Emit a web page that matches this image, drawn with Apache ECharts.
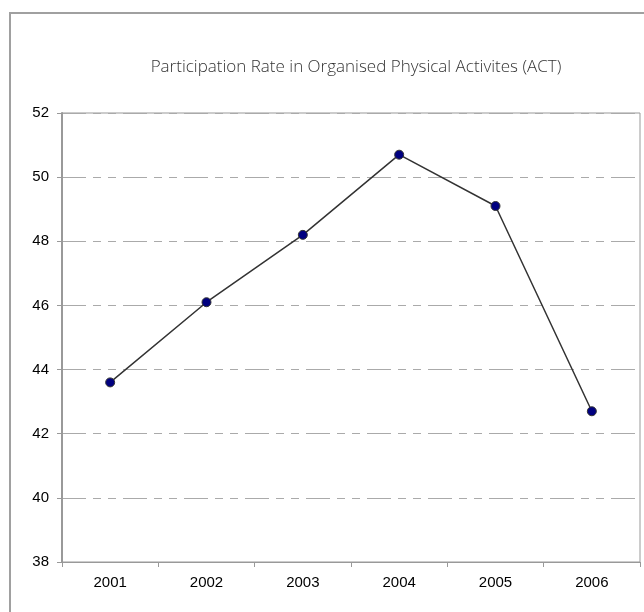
<!DOCTYPE html>
<html>
<head>
<meta charset="utf-8">
<script src="https://cdn.jsdelivr.net/npm/echarts@6/dist/echarts.min.js"></script>
<style>
  html, body { margin: 0; padding: 0; background: #fff; }
  #chart { width: 644px; height: 612px; }
</style>
</head>
<body>
<div id="chart"></div>
<script>
// data
var years = ['2001', '2002', '2003', '2004', '2005', '2006'];
var rates = [43.6, 46.1, 48.2, 50.7, 49.1, 42.7];
var yTicks = { min: 38, max: 52, step: 2 };

var chart = echarts.init(document.getElementById('chart'));
var option = {
    animation: false,
    title: {
        text: 'Participation Rate in Organised Physical Activites (ACT)',
        left: 351,
        top: 54,
        textAlign: 'center',
        textStyle: {
            fontFamily: 'Open Sans',
            fontWeight: 300,
            fontSize: 17,
            color: '#333'
        }
    },
    graphic: [{
        type: 'rect',
        shape: { x: 10, y: 13, width: 660, height: 640 },
        style: { fill: 'none', stroke: '#a0a0a0', lineWidth: 2 },
        z: -1
    }],
    grid: {
        left: 62, top: 113, right: 4, bottom: 50,
        show: true,
        borderColor: '#999',
        borderWidth: 1
    },
    xAxis: {
        type: 'category',
        data: years,
        boundaryGap: true,
        axisLine: { lineStyle: { color: '#999', width: 1 } },
        axisTick: { show: true, length: 5, inside: false, lineStyle: { color: '#999' } },
        axisLabel: {
            margin: 13,
            fontFamily: 'Liberation Sans',
            fontSize: 15,
            color: '#000'
        },
        splitLine: { show: false }
    },
    yAxis: {
        type: 'value',
        min: yTicks.min,
        max: yTicks.max,
        interval: yTicks.step,
        axisLine: { show: true, lineStyle: { color: '#999', width: 2 } },
        axisTick: { show: true, length: 5, lineStyle: { color: '#999' } },
        axisLabel: {
            margin: 13,
            fontFamily: 'Liberation Sans',
            fontSize: 15,
            color: '#000'
        },
        splitLine: {
            show: true,
            lineStyle: {
                color: '#aaa',
                width: 1,
                type: [24, 7, 8, 7, 8, 7]
            }
        }
    },
    series: [{
        type: 'line',
        data: rates,
        symbol: 'circle',
        symbolSize: 9,
        lineStyle: { color: '#333', width: 1.5 },
        itemStyle: { color: '#000080', borderColor: '#333', borderWidth: 1 }
    }]
};
chart.setOption(option);
</script>
</body>
</html>
